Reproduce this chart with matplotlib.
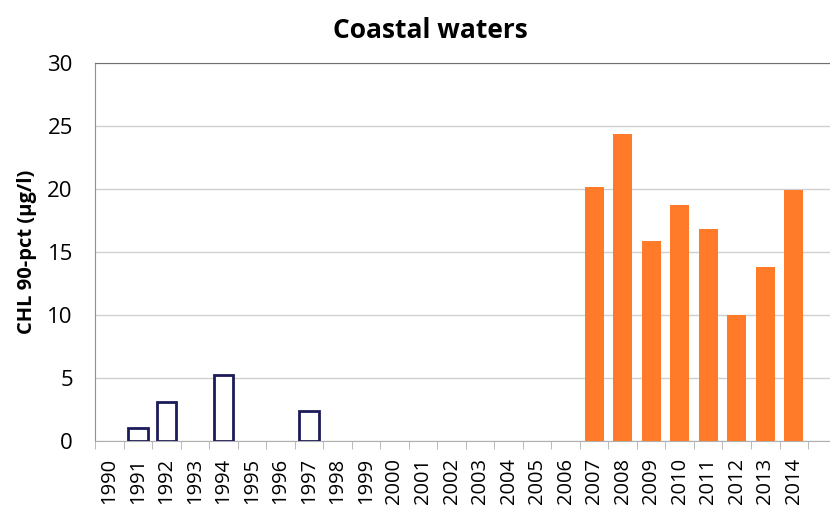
import matplotlib
matplotlib.use("Agg")
import matplotlib.pyplot as plt
import numpy as np

years = [str(y) for y in range(1990, 2015)]
early_years = ["1991", "1992", "1994", "1997"]
early_values = [1.0, 3.1, 5.2, 2.4]
recent_years = ["2007", "2008", "2009", "2010", "2011", "2012", "2013", "2014"]
recent_values = [20.2, 24.4, 15.9, 18.7, 16.8, 10.0, 13.8, 19.9]
yticks = [0, 5, 10, 15, 20, 25, 30]

plt.rcParams['font.family'] = ['Open Sans', 'DejaVu Sans']

fig = plt.figure(figsize=(8.3, 5.09), dpi=100)
ax = fig.add_axes([0.1145, 0.1336, 0.8855, 0.7424])

pos = {y: i for i, y in enumerate(years)}
ax.bar([pos[y] for y in early_years], early_values, width=0.68,
       facecolor='white', edgecolor='#1c1c5a', linewidth=2, zorder=3)
ax.bar([pos[y] for y in recent_years], recent_values, width=0.66,
       color='#ff7b2a', edgecolor='none', zorder=3)

ax.set_xlim(-0.5, len(years) - 0.5 + 0.77)
ax.set_ylim(0, 30)
ax.set_yticks(yticks)
ax.set_yticklabels([str(t) for t in yticks], fontsize=16)
ax.set_xticks(range(len(years)))
ax.set_xticklabels(years, rotation=90, fontsize=14.5, va='top')
ax.set_xticks(np.arange(-0.5, len(years), 1), minor=True)
ax.tick_params(axis='x', which='major', length=0, pad=12)
ax.tick_params(axis='x', which='minor', length=6, color='#b0b0b0')
ax.tick_params(axis='y', length=0, pad=16)

ax.grid(axis='y', color='#d0d0d0', linewidth=1, zorder=0)
ax.spines['right'].set_visible(False)
ax.spines['top'].set_color('#707070')
ax.spines['left'].set_color('#909090')
ax.spines['bottom'].set_color('#b0b0b0')

ax.set_ylabel('CHL 90-pct (µg/l)', fontsize=14.5, fontweight='bold', labelpad=7.5)
fig.text(430 / 830, 1 - 31 / 509, 'Coastal waters', fontsize=19, fontweight='bold',
         ha='center', va='center')

fig.savefig('out.png', dpi=100)
